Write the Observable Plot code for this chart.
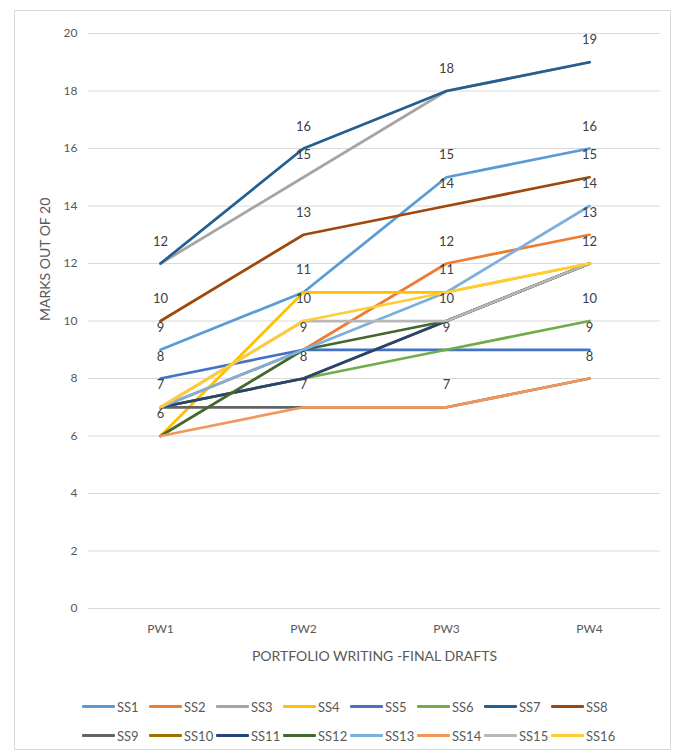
<!DOCTYPE html>
<html>
<head>
<meta charset="utf-8">
<script src="https://cdn.jsdelivr.net/npm/d3@7"></script>
<script src="https://cdn.jsdelivr.net/npm/@observablehq/plot@0.6"></script>
<style>
  body { margin: 0; background: #fff; font-family: Lato, "Open Sans", sans-serif; }
  #wrap { position: relative; width: 682px; height: 753px; }
  #border { position: absolute; left: 14px; top: 10px; width: 657px; height: 740px; border: 1px solid #d9d9d9; box-sizing: border-box; pointer-events: none; }
  #chart { position: absolute; left: 0; top: 0; }
  #legend { position: absolute; left: 82px; top: 692px; width: 560px; font-size: 13px; color: #595959; }
  .row { display: flex; height: 29px; align-items: center; }
  .item { display: flex; align-items: center; width: 67px; }
  .sw { width: 33px; height: 3px; margin-right: 2px; border-radius: 1px; }
</style>
</head>
<body>
<div id="wrap">
  <div id="chart"></div>
  <div id="legend"></div>
  <div id="border"></div>
</div>
<script>
const categories = ["PW1", "PW2", "PW3", "PW4"];
const seriesNames = ["SS1","SS2","SS3","SS4","SS5","SS6","SS7","SS8","SS9","SS10","SS11","SS12","SS13","SS14","SS15","SS16"];
const seriesColors = ["#5B9BD5","#ED7D31","#A5A5A5","#FFC000","#4472C4","#70AD47","#255E91","#9E480E","#636363","#997300","#264478","#43682B","#7CAFDD","#F1975A","#B7B7B7","#FFCD33"];
const ss1  = [9, 11, 15, 16];
const ss2  = [7, 9, 12, 13];
const ss3  = [12, 15, 18, 19];
const ss4  = [6, 11, 11, 12];
const ss5  = [8, 9, 9, 9];
const ss6  = [7, 8, 9, 10];
const ss7  = [12, 16, 18, 19];
const ss8  = [10, 13, 14, 15];
const ss9  = [7, 7, 7, 8];
const ss10 = [7, 8, 10, 12];
const ss11 = [7, 8, 10, 12];
const ss12 = [6, 9, 10, 12];
const ss13 = [7, 9, 11, 14];
const ss14 = [6, 7, 7, 8];
const ss15 = [7, 10, 10, 12];
const ss16 = [7, 10, 11, 12];
const yTicks = [0, 2, 4, 6, 8, 10, 12, 14, 16, 18, 20];

const seriesValues = [ss1, ss2, ss3, ss4, ss5, ss6, ss7, ss8, ss9, ss10, ss11, ss12, ss13, ss14, ss15, ss16];
const data = seriesNames.flatMap((s, i) => categories.map((c, j) => ({series: s, cat: c, value: seriesValues[i][j]})));

// one data label per distinct value at each category
const labelData = [];
categories.forEach((c, j) => {
  const vals = Array.from(new Set(seriesValues.map(v => v[j])));
  vals.forEach(v => labelData.push({cat: c, value: v}));
});

const chart = Plot.plot({
  width: 682,
  height: 680,
  marginLeft: 88,
  marginRight: 22,
  marginTop: 33,
  marginBottom: 72,
  style: {fontFamily: "Lato, 'Open Sans', sans-serif", fontSize: "12px", color: "#595959", background: "transparent"},
  x: {type: "point", domain: categories, padding: 0.5, label: null},
  y: {domain: [0, 20], ticks: yTicks, label: null},
  color: {domain: seriesNames, range: seriesColors},
  marks: [
    Plot.gridY(yTicks, {stroke: "#d9d9d9", strokeOpacity: 1, strokeWidth: 1}),
    Plot.axisY(yTicks, {tickSize: 0, tickPadding: 11, fontSize: 12, fill: "#595959", label: null}),
    Plot.axisX({tickSize: 0, tickPadding: 16, fontSize: 12, fill: "#595959", label: null}),
    Plot.text(["MARKS OUT OF 20"], {frameAnchor: "left", dx: -43, rotate: -90, fontSize: 14, fill: "#595959", text: d => d}),
    Plot.text(["PORTFOLIO WRITING -FINAL DRAFTS"], {frameAnchor: "bottom", dy: 52, fontSize: 14, fill: "#595959", text: d => d}),
    ...seriesNames.map((s, i) => Plot.line(data.filter(d => d.series === s), {x: "cat", y: "value", stroke: seriesColors[i], strokeWidth: 2.75, strokeLinecap: "round", strokeLinejoin: "round"})),
    Plot.text(labelData, {x: "cat", y: "value", text: d => String(d.value), dy: -22, fill: "#404040", fontSize: 13})
  ]
});
document.getElementById("chart").appendChild(chart);

const legend = document.getElementById("legend");
[0, 8].forEach(start => {
  const row = document.createElement("div");
  row.className = "row";
  seriesNames.slice(start, start + 8).forEach((s, k) => {
    const it = document.createElement("div");
    it.className = "item";
    const sw = document.createElement("div");
    sw.className = "sw";
    sw.style.background = seriesColors[start + k];
    const t = document.createElement("span");
    t.textContent = s;
    it.appendChild(sw);
    it.appendChild(t);
    row.appendChild(it);
  });
  legend.appendChild(row);
});
</script>
</body>
</html>
